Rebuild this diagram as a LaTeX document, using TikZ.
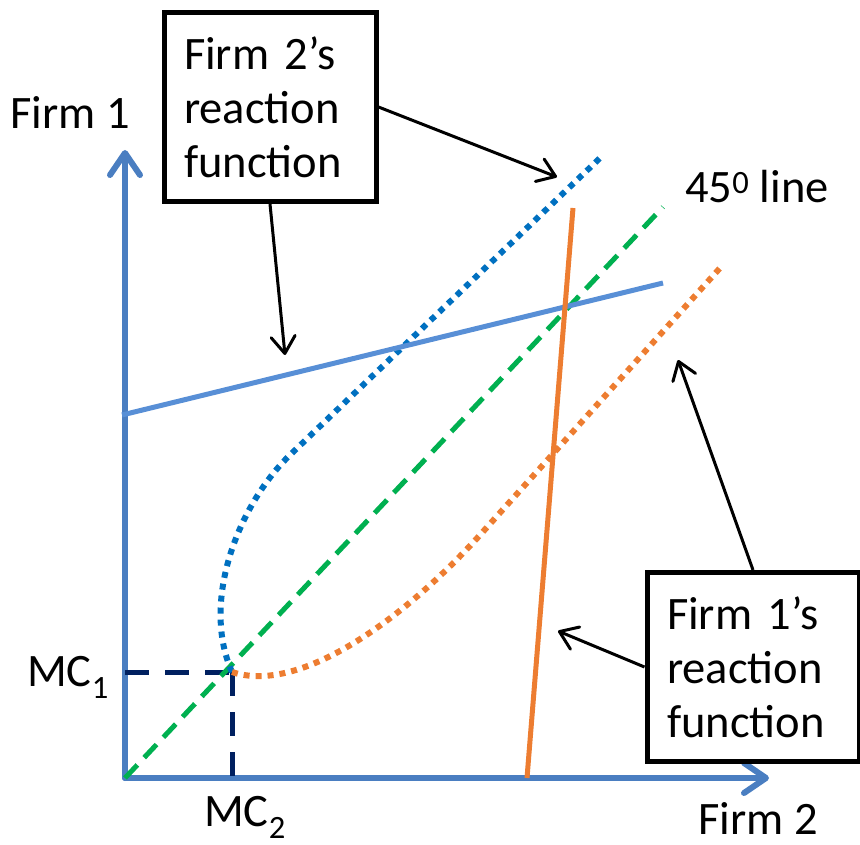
\documentclass[tikz,border=0pt]{standalone}
\usepackage{fontspec}
\setmainfont{Carlito}
\usetikzlibrary{arrows.meta}
\definecolor{axisblue}{RGB}{74,126,193}
\definecolor{lineblue}{RGB}{88,143,214}
\definecolor{dotblue}{RGB}{0,112,192}
\definecolor{firmorange}{RGB}{237,125,49}
\definecolor{diaggreen}{RGB}{0,176,80}
\definecolor{mcnavy}{RGB}{0,32,96}
\begin{document}
\begin{tikzpicture}[x=1pt,y=-1pt,
    font=\fontsize{46.5}{54}\selectfont,
    axis/.style={axisblue,line width=6pt,line cap=round,
      -{Straight Barb[length=22pt,width=30pt,round]}},
    curve/.style={line width=5pt},
    dotcurve/.style={line width=6pt,dash pattern=on 6pt off 6pt},
    callout/.style={black,line width=3pt,
      -{Straight Barb[length=17pt,width=24pt,round]}},
    labelbox/.style={draw,line width=5pt,minimum width=212pt,minimum height=189pt,
      text width=172pt,align=left,inner sep=0pt}]
  \useasboundingbox (0,0) rectangle (860,845);
  \coordinate (o) at (125,778);
  \coordinate (ytop) at (125,150);
  \coordinate (xend) at (769,778);
  \coordinate (mc) at (232,672);
  % axes
  \draw[axis] (o) -- (ytop);
  \draw[axis] (o) -- (xend);
  % marginal cost
  \begin{scope}[mcnavy,line width=5pt,dash pattern=on 24pt off 16pt]
    \draw (o |- mc) -- (mc);
    \draw (mc) -- (mc |- o);
  \end{scope}
  % 45 degree line
  \draw[diaggreen,curve,dash pattern=on 18pt off 10pt] (o) -- (663,207);
  % reaction functions
  \draw[dotblue,dotcurve] (mc) .. controls (200,600) and (240,503) .. (290,455) -- (600,158);
  \draw[firmorange,dotcurve] (mc) .. controls (300,695) and (405,618) .. (480,535) -- (720,268);
  \draw[lineblue,curve] (122,415) -- (663,283);
  \draw[firmorange,curve] (527,778) -- (573,208);
  % labels
  \node[anchor=base] (ylab) at (70,129) {Firm 1};
  \node[anchor=base] (xlab) at (758,834) {Firm 2};
  \node[anchor=base] (mc1) at (68,686) {MC\textsubscript{1}};
  \node[anchor=base] (mc2) at (245,826) {MC\textsubscript{2}};
  \node[anchor=base] (diag) at (757,203) {45\textsuperscript{0} line};
  \node[labelbox,fill=white] (box2) at (270,107) {Firm 2’s\\reaction\\function};
  \node[labelbox,fill=white] (box1) at (753,667) {Firm 1’s\\reaction\\function};
  % callouts
  \coordinate (t1) at (557,177);
  \coordinate (t2) at (285,355);
  \coordinate (t3) at (558,631);
  \coordinate (t4) at (678,360);
  \draw[callout] (box2.east) -- (t1);
  \draw[callout] (box2.south) -- (t2);
  \draw[callout] (box1.west) -- (t3);
  \draw[callout] (box1.north) -- (t4);
\end{tikzpicture}
\end{document}
